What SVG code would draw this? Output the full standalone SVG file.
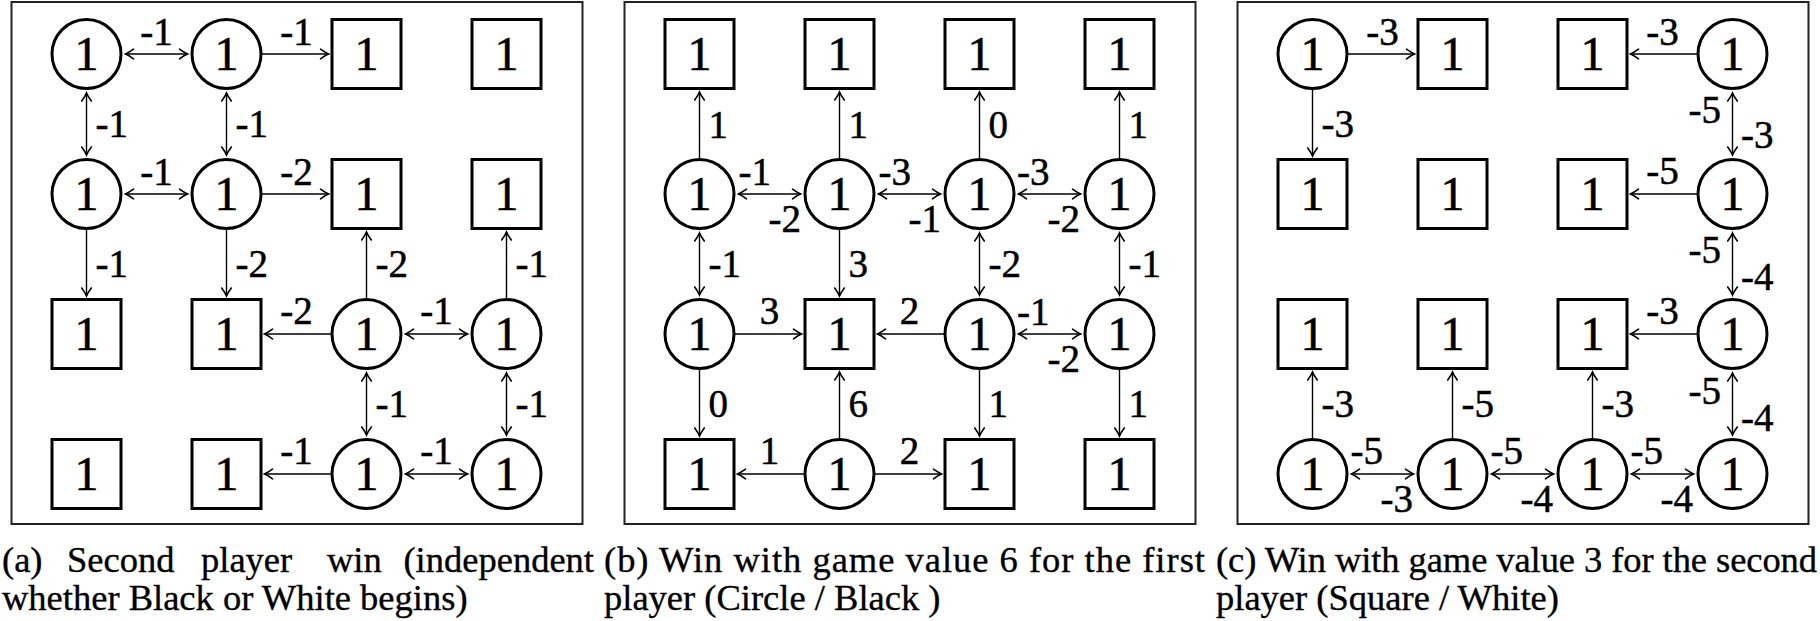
<svg xmlns="http://www.w3.org/2000/svg" width="1820" height="621" viewBox="0 0 1820 621">
<style>
.frame{fill:none;stroke:#222;stroke-width:2}
.nd{fill:#fff;stroke:#000;stroke-width:3}
.nv{font-family:"Liberation Serif",serif;font-size:48px;text-anchor:middle;fill:#000;stroke:#000;stroke-width:0.6}
.el{font-family:"Liberation Serif",serif;font-size:39px;fill:#000;stroke:#000;stroke-width:0.5}
.m{text-anchor:middle}
.r{text-anchor:end}
.e{stroke:#000;stroke-width:1.4;fill:none}
.cap{font-family:"Liberation Serif",serif;font-size:36.5px;fill:#000;stroke:#000;stroke-width:0.35}
</style>
<defs>
<marker id="ah" viewBox="-10 -6 12 12" refX="0" refY="0" markerWidth="12" markerHeight="12" markerUnits="userSpaceOnUse" orient="auto-start-reverse">
<path d="M-8,-4.8 Q-3,-1.2 0,0 Q-3,1.2 -8,4.8" fill="none" stroke="#000" stroke-width="1.6" stroke-linecap="round"/>
</marker>
</defs>
<rect width="1820" height="621" fill="#fff"/>
<g id="frames">
<rect class="frame" x="11.5" y="2" width="571" height="522"/>
<rect class="frame" x="624.5" y="2" width="571" height="522"/>
<rect class="frame" x="1237.5" y="2" width="571" height="522"/>
</g>
<g id="connectors">
<line class="e" x1="125.5" y1="54" x2="187.5" y2="54" marker-start="url(#ah)" marker-end="url(#ah)"/>
<line class="e" x1="261.5" y1="54" x2="328.5" y2="54" marker-end="url(#ah)"/>
<line class="e" x1="86.5" y1="93" x2="86.5" y2="155" marker-start="url(#ah)" marker-end="url(#ah)"/>
<line class="e" x1="226.5" y1="93" x2="226.5" y2="155" marker-start="url(#ah)" marker-end="url(#ah)"/>
<line class="e" x1="125.5" y1="194" x2="187.5" y2="194" marker-start="url(#ah)" marker-end="url(#ah)"/>
<line class="e" x1="261.5" y1="194" x2="328.5" y2="194" marker-end="url(#ah)"/>
<line class="e" x1="86.5" y1="229" x2="86.5" y2="296" marker-end="url(#ah)"/>
<line class="e" x1="226.5" y1="229" x2="226.5" y2="296" marker-end="url(#ah)"/>
<line class="e" x1="366.5" y1="299" x2="366.5" y2="232" marker-end="url(#ah)"/>
<line class="e" x1="506.5" y1="299" x2="506.5" y2="232" marker-end="url(#ah)"/>
<line class="e" x1="331.5" y1="334" x2="264.5" y2="334" marker-end="url(#ah)"/>
<line class="e" x1="405.5" y1="334" x2="467.5" y2="334" marker-start="url(#ah)" marker-end="url(#ah)"/>
<line class="e" x1="366.5" y1="373" x2="366.5" y2="435" marker-start="url(#ah)" marker-end="url(#ah)"/>
<line class="e" x1="506.5" y1="373" x2="506.5" y2="435" marker-start="url(#ah)" marker-end="url(#ah)"/>
<line class="e" x1="331.5" y1="474" x2="264.5" y2="474" marker-end="url(#ah)"/>
<line class="e" x1="405.5" y1="474" x2="467.5" y2="474" marker-start="url(#ah)" marker-end="url(#ah)"/>
<line class="e" x1="699.5" y1="159" x2="699.5" y2="92" marker-end="url(#ah)"/>
<line class="e" x1="839.5" y1="159" x2="839.5" y2="92" marker-end="url(#ah)"/>
<line class="e" x1="979.5" y1="159" x2="979.5" y2="92" marker-end="url(#ah)"/>
<line class="e" x1="1119.5" y1="159" x2="1119.5" y2="92" marker-end="url(#ah)"/>
<line class="e" x1="738.5" y1="194" x2="800.5" y2="194" marker-start="url(#ah)" marker-end="url(#ah)"/>
<line class="e" x1="878.5" y1="194" x2="940.5" y2="194" marker-start="url(#ah)" marker-end="url(#ah)"/>
<line class="e" x1="1018.5" y1="194" x2="1080.5" y2="194" marker-start="url(#ah)" marker-end="url(#ah)"/>
<line class="e" x1="699.5" y1="233" x2="699.5" y2="295" marker-start="url(#ah)" marker-end="url(#ah)"/>
<line class="e" x1="839.5" y1="229" x2="839.5" y2="296" marker-end="url(#ah)"/>
<line class="e" x1="979.5" y1="233" x2="979.5" y2="295" marker-start="url(#ah)" marker-end="url(#ah)"/>
<line class="e" x1="1119.5" y1="233" x2="1119.5" y2="295" marker-start="url(#ah)" marker-end="url(#ah)"/>
<line class="e" x1="734.5" y1="334" x2="801.5" y2="334" marker-end="url(#ah)"/>
<line class="e" x1="944.5" y1="334" x2="877.5" y2="334" marker-end="url(#ah)"/>
<line class="e" x1="1018.5" y1="334" x2="1080.5" y2="334" marker-start="url(#ah)" marker-end="url(#ah)"/>
<line class="e" x1="699.5" y1="369" x2="699.5" y2="436" marker-end="url(#ah)"/>
<line class="e" x1="839.5" y1="439" x2="839.5" y2="372" marker-end="url(#ah)"/>
<line class="e" x1="979.5" y1="369" x2="979.5" y2="436" marker-end="url(#ah)"/>
<line class="e" x1="1119.5" y1="369" x2="1119.5" y2="436" marker-end="url(#ah)"/>
<line class="e" x1="804.5" y1="474" x2="737.5" y2="474" marker-end="url(#ah)"/>
<line class="e" x1="874.5" y1="474" x2="941.5" y2="474" marker-end="url(#ah)"/>
<line class="e" x1="1347.5" y1="54" x2="1414.5" y2="54" marker-end="url(#ah)"/>
<line class="e" x1="1312.5" y1="89" x2="1312.5" y2="156" marker-end="url(#ah)"/>
<line class="e" x1="1697.5" y1="54" x2="1630.5" y2="54" marker-end="url(#ah)"/>
<line class="e" x1="1732.5" y1="93" x2="1732.5" y2="155" marker-start="url(#ah)" marker-end="url(#ah)"/>
<line class="e" x1="1697.5" y1="194" x2="1630.5" y2="194" marker-end="url(#ah)"/>
<line class="e" x1="1732.5" y1="233" x2="1732.5" y2="295" marker-start="url(#ah)" marker-end="url(#ah)"/>
<line class="e" x1="1697.5" y1="334" x2="1630.5" y2="334" marker-end="url(#ah)"/>
<line class="e" x1="1732.5" y1="373" x2="1732.5" y2="435" marker-start="url(#ah)" marker-end="url(#ah)"/>
<line class="e" x1="1312.5" y1="439" x2="1312.5" y2="372" marker-end="url(#ah)"/>
<line class="e" x1="1452.5" y1="439" x2="1452.5" y2="372" marker-end="url(#ah)"/>
<line class="e" x1="1592.5" y1="439" x2="1592.5" y2="372" marker-end="url(#ah)"/>
<line class="e" x1="1351.5" y1="474" x2="1413.5" y2="474" marker-start="url(#ah)" marker-end="url(#ah)"/>
<line class="e" x1="1491.5" y1="474" x2="1553.5" y2="474" marker-start="url(#ah)" marker-end="url(#ah)"/>
<line class="e" x1="1631.5" y1="474" x2="1693.5" y2="474" marker-start="url(#ah)" marker-end="url(#ah)"/>
</g>
<g id="edge-labels">
<text class="el m" x="156.5" y="45">-1</text>
<text class="el m" x="296.5" y="45">-1</text>
<text class="el" x="95.5" y="137">-1</text>
<text class="el" x="235.5" y="137">-1</text>
<text class="el m" x="156.5" y="185">-1</text>
<text class="el m" x="296.5" y="185">-2</text>
<text class="el" x="95.5" y="277">-1</text>
<text class="el" x="235.5" y="277">-2</text>
<text class="el" x="375.5" y="277">-2</text>
<text class="el" x="515.5" y="277">-1</text>
<text class="el m" x="296.5" y="324">-2</text>
<text class="el m" x="436.5" y="324">-1</text>
<text class="el" x="375.5" y="417">-1</text>
<text class="el" x="515.5" y="417">-1</text>
<text class="el m" x="296.5" y="464">-1</text>
<text class="el m" x="436.5" y="464">-1</text>
<text class="el" x="708.5" y="138">1</text>
<text class="el" x="848.5" y="138">1</text>
<text class="el" x="988.5" y="138">0</text>
<text class="el" x="1128.5" y="138">1</text>
<text class="el" x="738.5" y="185">-1</text>
<text class="el r" x="801" y="232">-2</text>
<text class="el" x="878.5" y="185">-3</text>
<text class="el r" x="941" y="232">-1</text>
<text class="el" x="1017" y="185">-3</text>
<text class="el r" x="1080" y="232">-2</text>
<text class="el" x="708.5" y="277">-1</text>
<text class="el" x="848.5" y="277">3</text>
<text class="el" x="988.5" y="277">-2</text>
<text class="el" x="1128.5" y="277">-1</text>
<text class="el m" x="769.5" y="324">3</text>
<text class="el m" x="909.5" y="324">2</text>
<text class="el" x="1017" y="325">-1</text>
<text class="el r" x="1080" y="372">-2</text>
<text class="el" x="708.5" y="417">0</text>
<text class="el" x="848.5" y="417">6</text>
<text class="el" x="988.5" y="417">1</text>
<text class="el" x="1128.5" y="417">1</text>
<text class="el m" x="769.5" y="464">1</text>
<text class="el m" x="909.5" y="464">2</text>
<text class="el m" x="1382.5" y="45">-3</text>
<text class="el" x="1321.5" y="137">-3</text>
<text class="el m" x="1662.5" y="45">-3</text>
<text class="el r" x="1721" y="123">-5</text>
<text class="el" x="1741" y="148">-3</text>
<text class="el m" x="1662.5" y="184">-5</text>
<text class="el r" x="1721" y="263">-5</text>
<text class="el" x="1741" y="290">-4</text>
<text class="el m" x="1662.5" y="324">-3</text>
<text class="el r" x="1721" y="404">-5</text>
<text class="el" x="1741" y="431">-4</text>
<text class="el" x="1321.5" y="417">-3</text>
<text class="el" x="1461.5" y="417">-5</text>
<text class="el" x="1601.5" y="417">-3</text>
<text class="el" x="1350.5" y="464">-5</text>
<text class="el r" x="1413" y="512">-3</text>
<text class="el" x="1490.5" y="464">-5</text>
<text class="el r" x="1553" y="512">-4</text>
<text class="el" x="1630.5" y="464">-5</text>
<text class="el r" x="1693" y="512">-4</text>
</g>
<g id="a00"><circle class="nd" cx="86.5" cy="54" r="34.5"/><text class="nv" x="86.5" y="70">1</text></g>
<g id="a10"><circle class="nd" cx="226.5" cy="54" r="34.5"/><text class="nv" x="226.5" y="70">1</text></g>
<g id="a20"><rect class="nd" x="332" y="19.5" width="69" height="69"/><text class="nv" x="366.5" y="70">1</text></g>
<g id="a30"><rect class="nd" x="472" y="19.5" width="69" height="69"/><text class="nv" x="506.5" y="70">1</text></g>
<g id="a01"><circle class="nd" cx="86.5" cy="194" r="34.5"/><text class="nv" x="86.5" y="210">1</text></g>
<g id="a11"><circle class="nd" cx="226.5" cy="194" r="34.5"/><text class="nv" x="226.5" y="210">1</text></g>
<g id="a21"><rect class="nd" x="332" y="159.5" width="69" height="69"/><text class="nv" x="366.5" y="210">1</text></g>
<g id="a31"><rect class="nd" x="472" y="159.5" width="69" height="69"/><text class="nv" x="506.5" y="210">1</text></g>
<g id="a02"><rect class="nd" x="52" y="299.5" width="69" height="69"/><text class="nv" x="86.5" y="350">1</text></g>
<g id="a12"><rect class="nd" x="192" y="299.5" width="69" height="69"/><text class="nv" x="226.5" y="350">1</text></g>
<g id="a22"><circle class="nd" cx="366.5" cy="334" r="34.5"/><text class="nv" x="366.5" y="350">1</text></g>
<g id="a32"><circle class="nd" cx="506.5" cy="334" r="34.5"/><text class="nv" x="506.5" y="350">1</text></g>
<g id="a03"><rect class="nd" x="52" y="439.5" width="69" height="69"/><text class="nv" x="86.5" y="490">1</text></g>
<g id="a13"><rect class="nd" x="192" y="439.5" width="69" height="69"/><text class="nv" x="226.5" y="490">1</text></g>
<g id="a23"><circle class="nd" cx="366.5" cy="474" r="34.5"/><text class="nv" x="366.5" y="490">1</text></g>
<g id="a33"><circle class="nd" cx="506.5" cy="474" r="34.5"/><text class="nv" x="506.5" y="490">1</text></g>
<g id="b00"><rect class="nd" x="665" y="19.5" width="69" height="69"/><text class="nv" x="699.5" y="70">1</text></g>
<g id="b10"><rect class="nd" x="805" y="19.5" width="69" height="69"/><text class="nv" x="839.5" y="70">1</text></g>
<g id="b20"><rect class="nd" x="945" y="19.5" width="69" height="69"/><text class="nv" x="979.5" y="70">1</text></g>
<g id="b30"><rect class="nd" x="1085" y="19.5" width="69" height="69"/><text class="nv" x="1119.5" y="70">1</text></g>
<g id="b01"><circle class="nd" cx="699.5" cy="194" r="34.5"/><text class="nv" x="699.5" y="210">1</text></g>
<g id="b11"><circle class="nd" cx="839.5" cy="194" r="34.5"/><text class="nv" x="839.5" y="210">1</text></g>
<g id="b21"><circle class="nd" cx="979.5" cy="194" r="34.5"/><text class="nv" x="979.5" y="210">1</text></g>
<g id="b31"><circle class="nd" cx="1119.5" cy="194" r="34.5"/><text class="nv" x="1119.5" y="210">1</text></g>
<g id="b02"><circle class="nd" cx="699.5" cy="334" r="34.5"/><text class="nv" x="699.5" y="350">1</text></g>
<g id="b12"><rect class="nd" x="805" y="299.5" width="69" height="69"/><text class="nv" x="839.5" y="350">1</text></g>
<g id="b22"><circle class="nd" cx="979.5" cy="334" r="34.5"/><text class="nv" x="979.5" y="350">1</text></g>
<g id="b32"><circle class="nd" cx="1119.5" cy="334" r="34.5"/><text class="nv" x="1119.5" y="350">1</text></g>
<g id="b03"><rect class="nd" x="665" y="439.5" width="69" height="69"/><text class="nv" x="699.5" y="490">1</text></g>
<g id="b13"><circle class="nd" cx="839.5" cy="474" r="34.5"/><text class="nv" x="839.5" y="490">1</text></g>
<g id="b23"><rect class="nd" x="945" y="439.5" width="69" height="69"/><text class="nv" x="979.5" y="490">1</text></g>
<g id="b33"><rect class="nd" x="1085" y="439.5" width="69" height="69"/><text class="nv" x="1119.5" y="490">1</text></g>
<g id="c00"><circle class="nd" cx="1312.5" cy="54" r="34.5"/><text class="nv" x="1312.5" y="70">1</text></g>
<g id="c10"><rect class="nd" x="1418" y="19.5" width="69" height="69"/><text class="nv" x="1452.5" y="70">1</text></g>
<g id="c20"><rect class="nd" x="1558" y="19.5" width="69" height="69"/><text class="nv" x="1592.5" y="70">1</text></g>
<g id="c30"><circle class="nd" cx="1732.5" cy="54" r="34.5"/><text class="nv" x="1732.5" y="70">1</text></g>
<g id="c01"><rect class="nd" x="1278" y="159.5" width="69" height="69"/><text class="nv" x="1312.5" y="210">1</text></g>
<g id="c11"><rect class="nd" x="1418" y="159.5" width="69" height="69"/><text class="nv" x="1452.5" y="210">1</text></g>
<g id="c21"><rect class="nd" x="1558" y="159.5" width="69" height="69"/><text class="nv" x="1592.5" y="210">1</text></g>
<g id="c31"><circle class="nd" cx="1732.5" cy="194" r="34.5"/><text class="nv" x="1732.5" y="210">1</text></g>
<g id="c02"><rect class="nd" x="1278" y="299.5" width="69" height="69"/><text class="nv" x="1312.5" y="350">1</text></g>
<g id="c12"><rect class="nd" x="1418" y="299.5" width="69" height="69"/><text class="nv" x="1452.5" y="350">1</text></g>
<g id="c22"><rect class="nd" x="1558" y="299.5" width="69" height="69"/><text class="nv" x="1592.5" y="350">1</text></g>
<g id="c32"><circle class="nd" cx="1732.5" cy="334" r="34.5"/><text class="nv" x="1732.5" y="350">1</text></g>
<g id="c03"><circle class="nd" cx="1312.5" cy="474" r="34.5"/><text class="nv" x="1312.5" y="490">1</text></g>
<g id="c13"><circle class="nd" cx="1452.5" cy="474" r="34.5"/><text class="nv" x="1452.5" y="490">1</text></g>
<g id="c23"><circle class="nd" cx="1592.5" cy="474" r="34.5"/><text class="nv" x="1592.5" y="490">1</text></g>
<g id="c33"><circle class="nd" cx="1732.5" cy="474" r="34.5"/><text class="nv" x="1732.5" y="490">1</text></g>
<g id="captions">
<text class="cap" x="2" y="572">(a)</text>
<text class="cap" x="67" y="572">Second</text>
<text class="cap" x="201" y="572">player</text>
<text class="cap" x="327" y="572">win</text>
<text class="cap r" x="594" y="572">(independent</text>
<text class="cap" x="2" y="610">whether Black or White begins)</text>
<text class="cap" x="604" y="572" textLength="601" lengthAdjust="spacing">(b) Win with game value 6 for the first</text>
<text class="cap" x="604" y="610">player (Circle / Black )</text>
<text class="cap" x="1216" y="572" textLength="601" lengthAdjust="spacing">(c) Win with game value 3 for the second</text>
<text class="cap" x="1216" y="610">player (Square / White)</text>
</g>
</svg>
